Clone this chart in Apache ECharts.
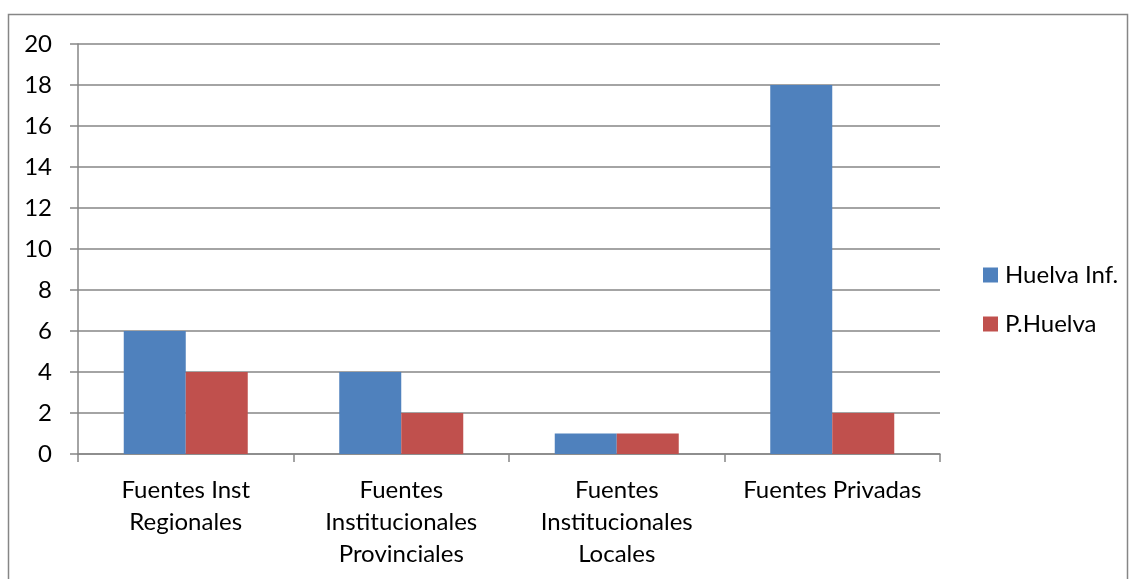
<!DOCTYPE html>
<html><head><meta charset="utf-8">
<script src="https://cdn.jsdelivr.net/npm/echarts@6/dist/echarts.min.js"></script>
<style>html,body{margin:0;padding:0;background:#fff}#c{width:1135px;height:579px}</style>
</head><body><div id="c"></div>
<script>
const categories = ["Fuentes Inst\nRegionales", "Fuentes\nInstitucionales\nProvinciales", "Fuentes\nInstitucionales\nLocales", "Fuentes Privadas"];
const huelvaInf = [6, 4, 1, 18];
const pHuelva = [4, 2, 1, 2];
const seriesNames = ["Huelva Inf.", "P.Huelva"];
const FONT = "Lato";
const chart = echarts.init(document.getElementById('c'));
chart.setOption({
  animation: false,
  textStyle: {fontFamily: FONT},
  graphic: [{type: 'rect', shape: {x: 8.5, y: 14.5, width: 1119, height: 600}, style: {fill: 'none', stroke: '#868686', lineWidth: 1.5}}],
  grid: {left: 78, right: 195, top: 44, bottom: 125},
  legend: {
    orient: 'vertical', left: 978, top: 258, itemWidth: 15, itemHeight: 15, itemGap: 25,
    icon: 'rect', data: seriesNames,
    textStyle: {fontFamily: FONT, fontSize: 24, color: '#000', padding: [0,0,0,2]}
  },
  xAxis: {
    type: 'category', data: categories,
    axisLine: {lineStyle: {color: '#868686', width: 1.5}},
    axisTick: {show: true, length: 8, lineStyle: {color: '#868686', width: 1.5}},
    axisLabel: {fontFamily: FONT, fontSize: 24, color: '#000', lineHeight: 32, margin: 20, interval: 0}
  },
  yAxis: {
    type: 'value', min: 0, max: 20, interval: 2,
    axisLine: {show: true, lineStyle: {color: '#868686', width: 1.5}},
    axisTick: {show: true, length: 8, lineStyle: {color: '#868686', width: 1.5}},
    splitLine: {lineStyle: {color: '#868686', width: 1.5}},
    axisLabel: {fontFamily: FONT, fontSize: 24, color: '#000', margin: 26}
  },
  series: [
    {name: seriesNames[0], type: 'bar', data: huelvaInf, barWidth: 62, barGap: '0%', itemStyle: {color: '#4F81BD'}},
    {name: seriesNames[1], type: 'bar', data: pHuelva, barWidth: 62, barGap: '0%', itemStyle: {color: '#C0504D'}}
  ]
});
</script></body></html>
